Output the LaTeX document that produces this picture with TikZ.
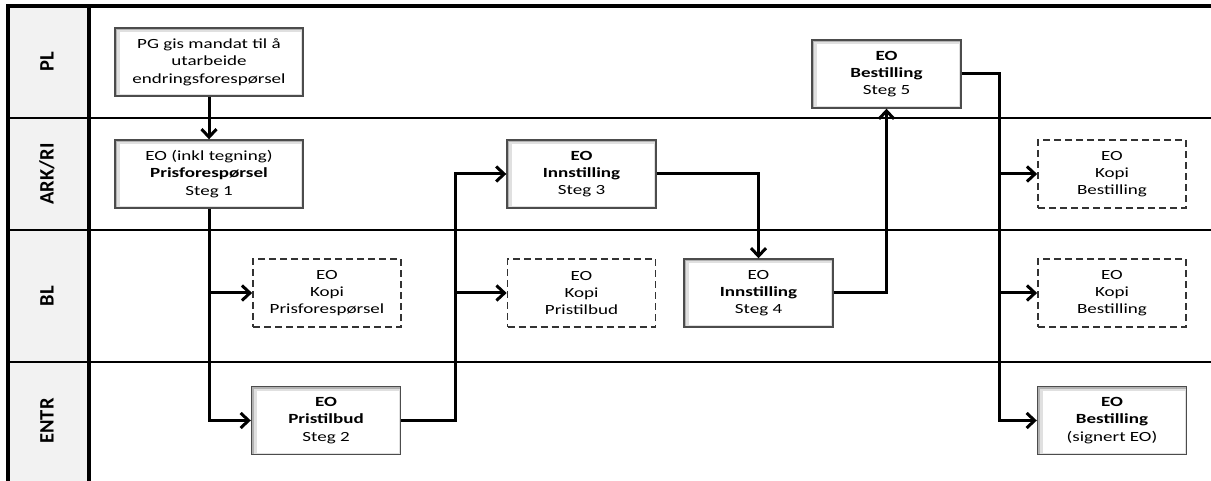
\documentclass[tikz,border=0pt]{standalone}
\usepackage{fontspec}
\setmainfont{Carlito}
\newfontfamily\boxfont[FakeStretch=1.36]{Carlito}
\usetikzlibrary{arrows.meta,calc}
\begin{document}
\begin{tikzpicture}[x=1pt,y=-1pt,
  lanelabel/.style={rotate=90, inner sep=0pt, font=\fontsize{20.5}{24}\selectfont\bfseries},
  bevel/.style={path picture={
     \fill[black!30] (path picture bounding box.south west) rectangle (path picture bounding box.north east);
     \fill[black!12] ([xshift=2pt,yshift=-2pt]path picture bounding box.north west) rectangle ([xshift=-1pt,yshift=1pt]path picture bounding box.south east);
     \fill[white] ([xshift=5pt,yshift=-4pt]path picture bounding box.north west) rectangle ([xshift=-2pt,yshift=2pt]path picture bounding box.south east);}},
  procbox/.style={bevel, draw=black!70, line width=1.4pt, minimum width=149pt, minimum height=68pt,
     align=center, inner sep=0pt, text=black, font=\boxfont\fontsize{14}{17.3}\selectfont},
  copybox/.style={draw=black!80, dash pattern=on 7pt off 4pt, line width=1.7pt, minimum width=148pt,
     minimum height=68pt, align=center, inner sep=0pt, text=black, font=\boxfont\fontsize{14}{17.3}\selectfont},
  conn/.style={line width=3pt, line join=miter, -{Straight Barb[length=8pt,width=15pt]}},
  lane/.style={line width=2.7pt},
  framel/.style={line width=3.5pt}]
\useasboundingbox (0,0) rectangle (1211,481);
% label column
\fill[black!5] (8,6) rectangle (89,481);
% lanes
\draw[lane] (8,118) -- (1211,118);
\draw[lane] (8,230) -- (1211,230);
\draw[lane] (8,362) -- (1211,362);
\draw[framel] (1211,6) -- (8,6) -- (8,481);
\draw[framel] (89,6) -- (89,481);
% lane labels
\node[lanelabel] (lpl) at (47,62) {PL};
\node[lanelabel] (lark) at (47,174) {ARK/RI};
\node[lanelabel] (lbl) at (47,296) {BL};
\node[lanelabel] (lentr) at (47,421) {ENTR};
% boxes
\node[procbox, minimum width=188pt] (pg) at (209,62) {PG gis mandat til å\\utarbeide\\endringsforespørsel};
\node[procbox, minimum width=188pt] (s1) at (209,174) {EO (inkl tegning)\\\textbf{Prisforespørsel}\\Steg 1};
\node[procbox] (s3) at (581.5,174) {\textbf{EO}\\\textbf{Innstilling}\\Steg 3};
\node[procbox] (s5) at (886.5,74) {\textbf{EO}\\\textbf{Bestilling}\\Steg 5};
\node[copybox] (kb1) at (1112,174) {EO\\Kopi\\Bestilling};
\node[copybox] (kp) at (327,293) {EO\\Kopi\\Prisforespørsel};
\node[copybox] (kt) at (581.5,293) {EO\\Kopi\\Pristilbud};
\node[procbox] (s4) at (758.5,293) {EO\\\textbf{Innstilling}\\Steg 4};
\node[copybox] (kb2) at (1112,293) {EO\\Kopi\\Bestilling};
\node[procbox] (s2) at (326,420.5) {\textbf{EO}\\\textbf{Pristilbud}\\Steg 2};
\node[procbox] (sig) at (1112,420.5) {\textbf{EO}\\\textbf{Bestilling}\\(signert EO)};
% junction columns
\coordinate (j2) at (455,0);
\coordinate (j5) at (999,0);
% connectors
\draw[conn] (pg) -- (s1);
\draw[conn] (s1.south) |- (s2.west);
\draw[conn] (s1.south |- kp.west) -- (kp.west);
\draw[conn] (s2.east) -- (s2.east -| j2) |- (s3.west);
\draw[conn] (kt.west -| j2) -- (kt.west);
\draw[conn] (s3.east) -| (s4.north);
\draw[conn] (s4.east) -| (s5.south);
\draw[conn] (s5.east) -- (s5.east -| j5) |- (sig.west);
\draw[conn] (kb1.west -| j5) -- (kb1.west);
\draw[conn] (kb2.west -| j5) -- (kb2.west);
\end{tikzpicture}
\end{document}
